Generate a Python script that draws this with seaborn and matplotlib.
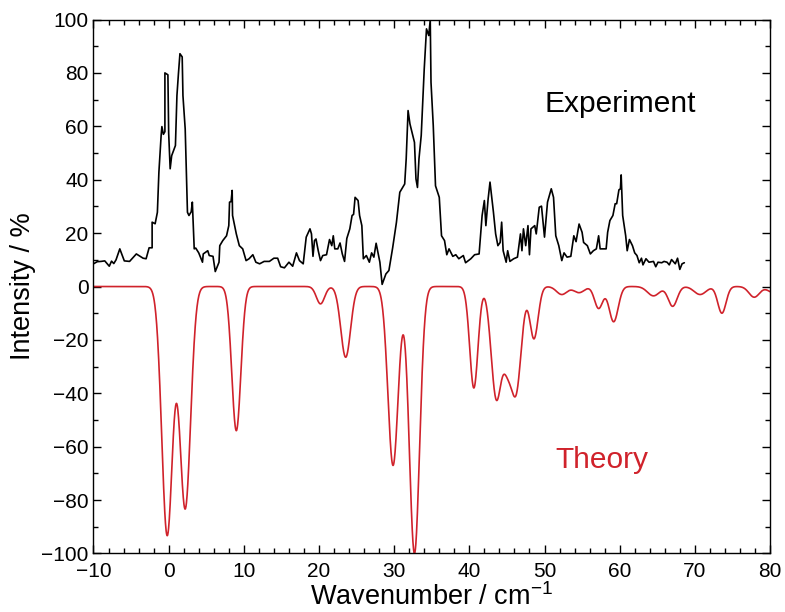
import numpy as np
import pandas as pd
import matplotlib
matplotlib.use("Agg")
import matplotlib.pyplot as plt
import seaborn as sns
from matplotlib.ticker import MultipleLocator

exp_x = [-10.0, -9.5, -9.0, -8.5, -7.9, -7.6, -7.3, -7.0, -6.5, -5.9,
         -5.2, -4.3, -3.4, -3.0, -2.6, -2.2, -2.2, -1.8, -1.5, -1.3,
         -1.0, -0.9, -0.7, -0.5, -0.5, -0.1, 0.0, 0.2, 0.4, 0.9,
         1.1, 1.3, 1.5, 1.8, 1.9, 2.2, 2.5, 2.7, 3.0, 3.15,
         3.4, 3.6, 4.0, 4.5, 4.6, 5.2, 5.4, 5.9, 6.2, 6.7,
         6.8, 7.2, 7.7, 8.0, 8.1, 8.3, 8.45, 8.5, 9.0, 9.4,
         9.85, 10.3, 10.7, 11.2, 11.6, 12.1, 12.7, 13.4, 14.0, 14.5,
         14.9, 15.4, 16.0, 16.5, 17.0, 17.4, 17.9, 18.3, 18.8, 19.0,
         19.2, 19.4, 19.6, 19.9, 20.2, 20.5, 21.0, 21.4, 21.7, 21.9,
         22.1, 22.5, 22.8, 23.1, 23.4, 23.7, 24.1, 24.4, 24.6, 24.8,
         25.2, 25.4, 25.7, 25.9, 26.3, 26.7, 27.0, 27.3, 27.6, 27.8,
         28.1, 28.4, 28.9, 29.3, 29.8, 30.3, 30.75, 31.4, 31.6, 31.85,
         32.1, 32.7, 32.9, 33.1, 33.3, 33.6, 33.8, 34.0, 34.3, 34.6,
         34.8, 34.9, 35.2, 35.5, 36.0, 36.3, 36.7, 37.0, 37.3, 37.8,
         38.2, 38.6, 39.2, 39.5, 40.2, 40.7, 41.3, 41.7, 42.0, 42.2,
         42.5, 42.75, 43.2, 43.5, 43.8, 44.1, 44.3, 44.5, 44.9, 45.1,
         45.4, 45.9, 46.4, 46.8, 47.0, 47.2, 47.5, 47.8, 48.0, 48.2,
         48.7, 48.9, 49.3, 49.6, 50.0, 50.4, 50.9, 51.2, 51.5, 51.9,
         52.3, 52.6, 53.0, 53.5, 53.9, 54.2, 54.6, 55.0, 55.2, 55.7,
         56.1, 56.5, 56.9, 57.2, 57.4, 58.0, 58.2, 58.4, 58.7, 59.1,
         59.4, 59.6, 59.9, 60.1, 60.2, 60.4, 60.8, 61.0, 61.3, 61.7,
         62.0, 62.3, 62.6, 62.9, 63.1, 63.5, 63.9, 64.5, 64.8, 65.1,
         65.6, 65.9, 66.3, 66.6, 66.9, 67.4, 67.7, 68.0, 68.3, 68.6]
exp_y = [8.5, 9.3, 9.4, 9.6, 7.6, 9.5, 8.6, 10.0, 14.1, 9.6,
         9.4, 12.2, 10.6, 10.4, 14.5, 14.5, 24.1, 23.5, 27.8, 42.8,
         56.6, 59.9, 57.0, 58.0, 80.0, 79.3, 57.5, 44.1, 49.0, 52.8,
         71.5, 79.7, 87.2, 86.0, 71.5, 59.0, 27.8, 26.6, 28.0, 31.6,
         14.1, 14.4, 12.6, 9.1, 12.2, 13.4, 11.6, 11.3, 5.6, 9.1,
         15.3, 17.2, 19.0, 22.8, 31.6, 31.8, 36.0, 26.6, 19.7, 15.3,
         14.1, 9.7, 10.4, 11.9, 9.1, 8.5, 9.4, 9.4, 10.6, 10.6,
         7.4, 7.0, 9.1, 7.6, 12.6, 9.7, 8.5, 18.5, 21.6, 19.7,
         11.3, 17.2, 17.8, 13.4, 9.7, 11.6, 11.9, 17.6, 15.3, 19.0,
         14.1, 14.1, 16.3, 12.2, 9.4, 18.0, 21.6, 26.6, 27.0, 33.4,
         32.2, 26.6, 22.8, 10.4, 11.6, 9.1, 12.6, 11.0, 16.2, 13.4,
         9.1, 0.8, 4.7, 6.0, 14.5, 24.0, 35.3, 38.4, 47.8, 65.9,
         60.9, 54.0, 40.3, 37.1, 47.8, 56.6, 69.1, 81.5, 96.5, 94.0,
         99.9, 76.5, 60.3, 37.7, 33.4, 19.0, 17.2, 11.9, 14.1, 11.3,
         11.9, 10.4, 11.6, 8.9, 10.4, 11.9, 12.2, 26.6, 32.2, 22.8,
         32.8, 39.1, 28.0, 19.7, 15.3, 16.5, 24.1, 13.4, 9.1, 13.4,
         9.4, 10.4, 11.0, 19.7, 13.4, 21.6, 15.3, 22.8, 11.9, 21.6,
         22.8, 19.7, 29.7, 30.1, 18.5, 31.6, 36.6, 33.4, 19.0, 15.3,
         9.7, 12.6, 11.0, 11.3, 19.0, 16.8, 23.4, 20.3, 16.5, 15.3,
         12.2, 13.4, 14.1, 19.0, 14.1, 14.1, 14.1, 20.3, 24.7, 26.6,
         31.0, 31.0, 36.2, 36.6, 41.8, 26.6, 19.0, 13.4, 17.6, 15.3,
         12.6, 11.6, 8.9, 10.6, 8.1, 10.4, 9.1, 9.4, 7.4, 9.1,
         8.9, 9.4, 9.1, 8.1, 10.1, 8.5, 10.6, 6.4, 8.5, 8.9]

# Theory: calculated line positions, intensities and broadening
theory_pos = [-0.2, 2.2, 9.0, 20.2, 23.55, 29.85, 32.7, 40.6, 43.6, 45.0, 46.2,
              48.6, 52.3, 54.6, 57.2, 59.2, 64.5, 67.05, 70.7, 73.6, 77.9, 80.6]
theory_int = [93.0, 83.0, 54.0, 6.5, 26.5, 67.0, 100.0, 38.0, 41.8, 19.5, 39.0,
              19.5, 3.0, 2.3, 8.2, 13.2, 3.5, 7.4, 3.0, 10.0, 4.0, 2.5]
theory_sig = [0.72, 0.72, 0.6, 0.55, 0.65, 0.68, 0.68, 0.55, 0.7, 0.55, 0.7,
              0.55, 0.7, 0.7, 0.55, 0.6, 0.8, 0.6, 0.8, 0.55, 0.7, 0.8]

grid = np.linspace(-10, 80, 3000)
spec = np.zeros_like(grid)
for p, a, s in zip(theory_pos, theory_int, theory_sig):
    spec -= a * np.exp(-0.5 * ((grid - p) / s) ** 2)

df_exp = pd.DataFrame({"wn": exp_x, "intensity": exp_y})
df_th = pd.DataFrame({"wn": grid, "intensity": spec})

sns.set_style("white")
plt.rcParams["font.family"] = ["Liberation Sans", "DejaVu Sans"]
plt.rcParams["mathtext.default"] = "regular"
plt.rcParams["text.color"] = "black"
plt.rcParams["axes.labelcolor"] = "black"

red = "#d0222b"

fig = plt.figure(figsize=(7.85, 6.12), dpi=100)
ax = fig.add_axes([0.1191, 0.0956, 0.8618, 0.8725])

sns.lineplot(data=df_exp, x="wn", y="intensity", sort=False, estimator=None,
             color="black", linewidth=1.2, ax=ax)
sns.lineplot(data=df_th, x="wn", y="intensity", sort=False, estimator=None,
             color=red, linewidth=1.2, ax=ax)

ax.text(50.0, 65.3, "Experiment", fontsize=21.5, color="black", ha="left", va="baseline")
ax.text(51.4, -67.8, "Theory", fontsize=21.5, color=red, ha="left", va="baseline")

ax.set_xlim(-10, 80)
ax.set_ylim(-100, 100)
ax.xaxis.set_major_locator(MultipleLocator(10))
ax.xaxis.set_minor_locator(MultipleLocator(2))
ax.yaxis.set_major_locator(MultipleLocator(20))
ax.yaxis.set_minor_locator(MultipleLocator(10))
ax.tick_params(which="both", direction="in", top=True, right=True,
               bottom=True, left=True, colors="black", labelcolor="black",
               labelsize=15)
ax.tick_params(which="major", length=6, width=1)
ax.tick_params(which="minor", length=3.5, width=1)
ax.tick_params(axis="x", which="major", pad=6)
for sp in ax.spines.values():
    sp.set_color("black")
    sp.set_linewidth(1.0)

ax.set_xlabel("Wavenumber / cm$^{-1}$", fontsize=19.5, labelpad=2)
ax.set_ylabel("Intensity / %", fontsize=19.5, labelpad=4)

fig.savefig("out.png", dpi=100)
